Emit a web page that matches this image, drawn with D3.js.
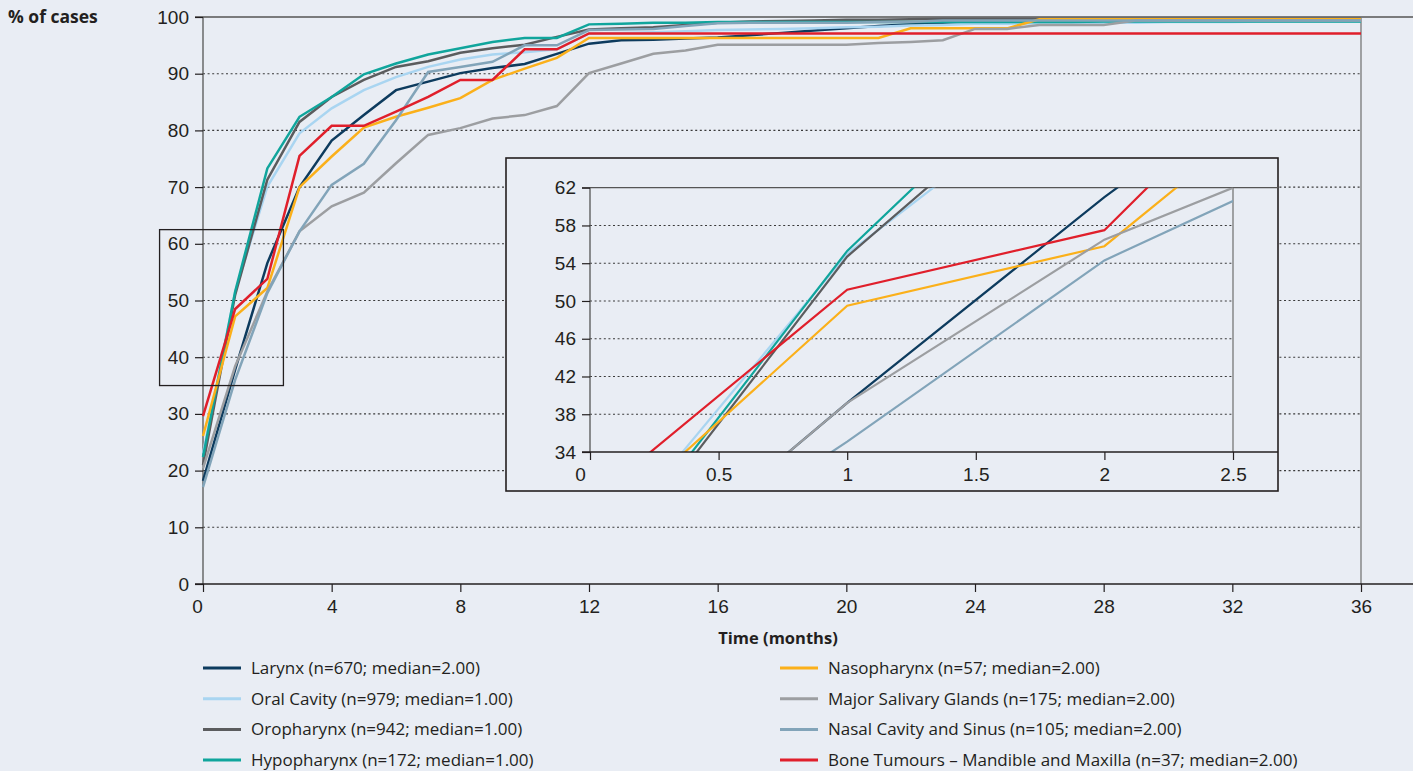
<!DOCTYPE html>
<html>
<head>
<meta charset="utf-8">
<script src="https://cdn.jsdelivr.net/npm/d3@7"></script>
<style>
  body { margin: 0; background: #e9edf4; }
  svg { display: block; font-family: "Open Sans", Lato, sans-serif; }
</style>
</head>
<body>
<script>

// months on the x axis of the main chart
const months = [0,1,2,3,4,5,6,7,8,9,10,11,12,13,14,15,16,17,18,19,20,21,22,23,24,25,26,27,28,29,30,31,32,33,34,35,36];

// % of cases, one value per month
const larynx   = [18.2,37.8,56.6,70.0,78.2,82.7,87.1,88.6,90.1,91.0,91.7,93.5,95.3,95.9,96.0,96.2,96.4,96.8,97.2,97.6,98.0,98.4,98.7,99.0,99.2,99.3,99.3,99.4,99.4,99.4,99.5,99.5,99.5,99.5,99.5,99.5,99.5];
const oralCav  = [23.0,51.5,70.1,79.5,83.9,87.1,89.4,91.2,92.5,93.4,93.8,94.3,97.1,97.2,97.3,97.5,97.7,97.8,97.9,98.0,98.2,98.3,98.5,98.6,98.8,98.8,98.9,98.9,99.0,99.0,99.1,99.1,99.1,99.2,99.2,99.2,99.2];
const oroph    = [21.0,51.0,71.3,81.5,85.9,88.9,91.2,92.2,93.7,94.5,95.1,96.5,97.8,98.0,98.2,98.6,99.0,99.2,99.3,99.4,99.5,99.5,99.6,99.7,99.7,99.7,99.7,99.7,99.7,99.7,99.7,99.7,99.7,99.7,99.7,99.7,99.7];
const hypoph   = [22.4,51.6,73.3,82.4,85.9,89.9,91.8,93.4,94.5,95.6,96.3,96.3,98.7,98.8,99.0,99.0,99.1,99.1,99.1,99.1,99.1,99.1,99.1,99.1,99.1,99.1,99.1,99.1,99.2,99.2,99.2,99.2,99.2,99.2,99.2,99.2,99.2];
const nasoph   = [26.1,47.2,52.2,70.0,75.4,80.5,82.4,84.0,85.7,88.9,90.9,92.8,96.3,96.3,96.3,96.3,96.3,96.3,96.3,96.3,96.3,96.3,98.0,98.0,98.0,98.0,99.6,99.6,99.6,99.6,99.6,99.6,99.6,99.6,99.6,99.6,99.6];
const salivary = [20.4,38.4,51.6,62.2,66.6,69.0,74.2,79.2,80.4,82.1,82.7,84.3,90.1,91.8,93.5,94.1,95.1,95.1,95.1,95.1,95.1,95.4,95.6,95.9,97.9,97.9,98.6,98.6,98.6,99.4,99.4,99.4,99.4,99.4,99.4,99.4,99.4];
const nasal    = [17.1,36.0,51.3,62.2,70.4,74.1,81.8,90.3,91.2,92.1,95.0,95.0,97.7,97.8,97.9,98.4,98.9,99.0,99.0,99.0,99.0,99.1,99.1,99.4,99.4,99.4,99.4,99.4,99.4,99.4,99.4,99.4,99.4,99.4,99.4,99.4,99.4];
const boneTum  = [29.6,48.5,53.8,75.5,80.8,80.8,83.3,85.9,88.9,88.9,94.3,94.3,97.1,97.1,97.1,97.1,97.1,97.1,97.1,97.1,97.1,97.1,97.1,97.1,97.1,97.1,97.1,97.1,97.1,97.1,97.1,97.1,97.1,97.1,97.1,97.1,97.1];

// inset (zoom on the first months), as drawn in the inset panel
const insetMonths   = [0,1,2,3];
const insetLarynx   = [16.3,39.2,61.0,81.0];
const insetOralCav  = [22.2,55.0,75.9,85.0];
const insetOroph    = [19.3,54.7,78.2,86.0];
const insetHypoph   = [20.0,55.3,81.3,88.0];
const insetNasoph   = [24.9,49.5,55.8,78.0];
const insetSalivary = [16.3,39.2,56.5,67.5];
const insetNasal    = [17.0,35.1,54.3,66.9];
const insetBoneTum  = [28.7,51.2,57.5,84.5];

const seriesNames = [
  "Larynx (n=670; median=2.00)",
  "Oral Cavity (n=979; median=1.00)",
  "Oropharynx (n=942; median=1.00)",
  "Hypopharynx (n=172; median=1.00)",
  "Nasopharynx (n=57; median=2.00)",
  "Major Salivary Glands (n=175; median=2.00)",
  "Nasal Cavity and Sinus (n=105; median=2.00)",
  "Bone Tumours \u2013 Mandible and Maxilla (n=37; median=2.00)"
];
const seriesColors = ["#0d3b5e", "#a9d5f1", "#5b5c5e", "#10a59c", "#fbb01a", "#9c9ea1", "#82a4b9", "#e01f2b"];

const xTicks = [0,4,8,12,16,20,24,28,32,36];
const yTicks = [0,10,20,30,40,50,60,70,80,90,100];
const insetXTicks = [0,0.5,1,1.5,2,2.5];
const insetYTicks = [34,38,42,46,50,54,58,62];

const mainSeries  = [larynx, oralCav, oroph, hypoph, nasoph, salivary, nasal, boneTum];
const insetSeries = [insetLarynx, insetOralCav, insetOroph, insetHypoph, insetNasoph, insetSalivary, insetNasal, insetBoneTum];

const W = 1413, H = 771;
const bg = "#e9edf4";
const ink = "#231f20";
const axisCol = "#555";
const tickFont = 19;

const svg = d3.select("body").append("svg")
    .attr("width", W)
    .attr("height", H);

svg.append("rect").attr("width", W).attr("height", H).attr("fill", bg);

// ---------- main chart ----------
const x = d3.scaleLinear().domain([0, 36]).range([203, 1361]);
const y = d3.scaleLinear().domain([0, 100]).range([584, 17]);

// dotted gridlines
svg.append("g")
    .selectAll("line")
    .data(yTicks.filter(d => d > 0 && d < 100))
    .join("line")
    .attr("x1", x(0)).attr("x2", x(36))
    .attr("y1", d => y(d)).attr("y2", d => y(d))
    .attr("stroke", "#3a3a3a")
    .attr("stroke-width", 1.1)
    .attr("stroke-dasharray", "2,2.6");

// frame lines: top (100) and bottom (0) run to the page edge
svg.append("line").attr("x1", x(0) - 8).attr("x2", W).attr("y1", y(100)).attr("y2", y(100))
    .attr("stroke", axisCol).attr("stroke-width", 1.3);
svg.append("line").attr("x1", x(36)).attr("x2", x(36)).attr("y1", y(100)).attr("y2", y(0))
    .attr("stroke", "#777").attr("stroke-width", 1.3);
svg.append("line").attr("x1", x(0)).attr("x2", x(0)).attr("y1", y(100)).attr("y2", y(0))
    .attr("stroke", axisCol).attr("stroke-width", 1.3);

const yAxis = svg.append("g")
    .attr("transform", "translate(" + x(0) + ",0)")
    .call(d3.axisLeft(y).tickValues(yTicks).tickSize(8).tickPadding(6));
yAxis.select(".domain").remove();
yAxis.selectAll(".tick line").attr("stroke", ink).attr("stroke-width", 1.2);
yAxis.selectAll(".tick text").attr("font-size", tickFont).attr("fill", ink).attr("font-family", null);

const xAxis = svg.append("g")
    .attr("transform", "translate(0," + y(0) + ")")
    .call(d3.axisBottom(x).tickValues(xTicks).tickSize(8).tickPadding(8));
xAxis.select(".domain").remove();
xAxis.selectAll(".tick line").attr("stroke", ink).attr("stroke-width", 1.2);
xAxis.selectAll(".tick text").attr("font-size", tickFont).attr("fill", ink).attr("font-family", null)
    .attr("dx", d => d === 0 ? -6 : 0);
svg.append("line").attr("x1", x(0) - 8).attr("x2", W).attr("y1", y(0)).attr("y2", y(0))
    .attr("stroke", ink).attr("stroke-width", 1.6);

// series lines
const line = d3.line()
    .x((d, i) => x(months[i]))
    .y(d => y(d));

svg.append("g")
    .selectAll("path")
    .data(mainSeries)
    .join("path")
    .attr("d", d => line(d))
    .attr("fill", "none")
    .attr("stroke", (d, i) => seriesColors[i])
    .attr("stroke-width", 2.5)
    .attr("stroke-linejoin", "miter");

// zoom box around the first months
svg.append("rect")
    .attr("x", x(-1.35))
    .attr("y", y(62.5))
    .attr("width", x(2.5) - x(-1.35))
    .attr("height", y(35) - y(62.5))
    .attr("fill", "none")
    .attr("stroke", ink)
    .attr("stroke-width", 1.3);

// axis titles
svg.append("text")
    .attr("x", 8).attr("y", 23)
    .attr("font-size", 17.5).attr("font-weight", "bold").attr("fill", ink)
    .text("% of cases");
svg.append("text")
    .attr("x", 778).attr("y", 644)
    .attr("text-anchor", "middle")
    .attr("font-size", 16.5).attr("font-weight", "bold").attr("fill", ink)
    .text("Time (months)");

// ---------- inset ----------
const inset = svg.append("g");
inset.append("rect")
    .attr("x", 506).attr("y", 158).attr("width", 772).attr("height", 333)
    .attr("fill", bg).attr("stroke", ink).attr("stroke-width", 1.6);

const xi = d3.scaleLinear().domain([0, 2.5]).range([590, 1233]);
const yi = d3.scaleLinear().domain([34, 62]).range([452, 187.7]);

inset.append("g")
    .selectAll("line")
    .data(insetYTicks.filter(d => d > 34 && d < 62))
    .join("line")
    .attr("x1", xi(0)).attr("x2", xi(2.5))
    .attr("y1", d => yi(d)).attr("y2", d => yi(d))
    .attr("stroke", "#3a3a3a")
    .attr("stroke-width", 1.1)
    .attr("stroke-dasharray", "2,2.6");

inset.append("line").attr("x1", xi(0) - 8).attr("x2", 1278).attr("y1", yi(62)).attr("y2", yi(62))
    .attr("stroke", axisCol).attr("stroke-width", 1.3);
inset.append("line").attr("x1", xi(2.5)).attr("x2", xi(2.5)).attr("y1", yi(62)).attr("y2", yi(34))
    .attr("stroke", "#777").attr("stroke-width", 1.3);
inset.append("line").attr("x1", xi(0)).attr("x2", xi(0)).attr("y1", yi(62)).attr("y2", yi(34))
    .attr("stroke", axisCol).attr("stroke-width", 1.3);

const clip = svg.append("defs").append("clipPath").attr("id", "insetClip");
clip.append("rect")
    .attr("x", xi(0)).attr("y", yi(62))
    .attr("width", xi(2.5) - xi(0)).attr("height", yi(34) - yi(62));

const insetLine = d3.line()
    .x((d, i) => xi(insetMonths[i]))
    .y(d => yi(d));

inset.append("g")
    .attr("clip-path", "url(#insetClip)")
    .selectAll("path")
    .data(insetSeries)
    .join("path")
    .attr("d", d => insetLine(d))
    .attr("fill", "none")
    .attr("stroke", (d, i) => seriesColors[i])
    .attr("stroke-width", 2.2);

const yiAxis = inset.append("g")
    .attr("transform", "translate(" + xi(0) + ",0)")
    .call(d3.axisLeft(yi).tickValues(insetYTicks).tickSize(8).tickPadding(6));
yiAxis.select(".domain").remove();
yiAxis.selectAll(".tick line").attr("stroke", ink).attr("stroke-width", 1.2);
yiAxis.selectAll(".tick text").attr("font-size", tickFont).attr("fill", ink).attr("font-family", null);

const xiAxis = inset.append("g")
    .attr("transform", "translate(0," + yi(34) + ")")
    .call(d3.axisBottom(xi).tickValues(insetXTicks).tickSize(8).tickPadding(8).tickFormat(d3.format("")));
xiAxis.select(".domain").remove();
xiAxis.selectAll(".tick line").attr("stroke", ink).attr("stroke-width", 1.2);
xiAxis.selectAll(".tick text").attr("font-size", tickFont).attr("fill", ink).attr("font-family", null)
    .attr("dx", d => d === 0 ? -10 : 0);
inset.append("line").attr("x1", xi(0) - 8).attr("x2", 1278).attr("y1", yi(34)).attr("y2", yi(34))
    .attr("stroke", ink).attr("stroke-width", 1.6);

// ---------- legend ----------
const legend = svg.append("g");
const legendItems = legend.selectAll("g")
    .data(seriesNames)
    .join("g")
    .attr("transform", (d, i) => "translate(" + (i < 4 ? 203 : 780) + "," + (668 + (i % 4) * 30.7) + ")");

legendItems.append("line")
    .attr("x1", 0).attr("x2", 38)
    .attr("stroke", (d, i) => seriesColors[i])
    .attr("stroke-width", 3);

legendItems.append("text")
    .attr("x", 48).attr("dy", "0.35em")
    .attr("font-size", 17).attr("fill", ink)
    .text(d => d);

</script>
</body>
</html>
